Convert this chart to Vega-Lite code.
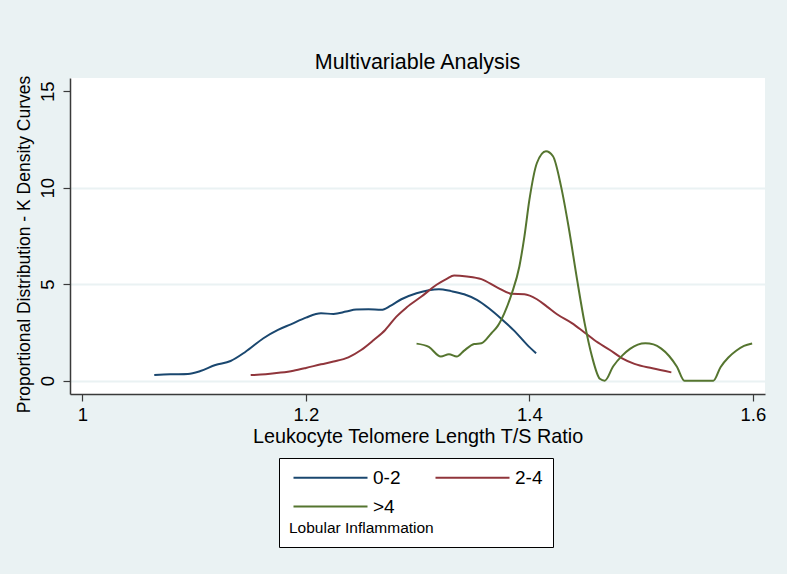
{
  "$schema": "https://vega.github.io/schema/vega-lite/v6.json",
  "width": 695,
  "height": 316,
  "autosize": {"type": "none"},
  "padding": {"left": 70, "top": 78, "right": 22, "bottom": 180},
  "background": "#eaf2f3",
  "title": {"text": "Multivariable Analysis", "fontSize": 21.5, "font": "Liberation Sans", "fontWeight": "normal", "color": "black", "offset": 2, "anchor": "middle"},
  "config": {
    "view": {"fill": "white", "stroke": null},
    "font": "Liberation Sans",
    "axis": {
      "labelFont": "Liberation Sans", "titleFont": "Liberation Sans",
      "labelColor": "black", "titleColor": "black",
      "labelFontSize": 18.5, "titleFontSize": 19.8, "titleFontWeight": "normal",
      "domainColor": "#3a3a3a", "domainWidth": 1.5,
      "tickColor": "#3a3a3a", "tickWidth": 1.2, "tickSize": 7
    }
  },
  "data": {"values": [
    {"group": "0-2", "tl": 1.0643, "density": 0.29},
    {"group": "0-2", "tl": 1.0787, "density": 0.33},
    {"group": "0-2", "tl": 1.0944, "density": 0.35},
    {"group": "0-2", "tl": 1.1056, "density": 0.50},
    {"group": "0-2", "tl": 1.119, "density": 0.81},
    {"group": "0-2", "tl": 1.1326, "density": 1.02},
    {"group": "0-2", "tl": 1.146, "density": 1.5},
    {"group": "0-2", "tl": 1.162, "density": 2.2},
    {"group": "0-2", "tl": 1.175, "density": 2.63},
    {"group": "0-2", "tl": 1.1865, "density": 2.92},
    {"group": "0-2", "tl": 1.2, "density": 3.27},
    {"group": "0-2", "tl": 1.2135, "density": 3.49},
    {"group": "0-2", "tl": 1.2247, "density": 3.46},
    {"group": "0-2", "tl": 1.236, "density": 3.58},
    {"group": "0-2", "tl": 1.245, "density": 3.69},
    {"group": "0-2", "tl": 1.256, "density": 3.70},
    {"group": "0-2", "tl": 1.2674, "density": 3.67},
    {"group": "0-2", "tl": 1.276, "density": 3.89},
    {"group": "0-2", "tl": 1.2854, "density": 4.22},
    {"group": "0-2", "tl": 1.299, "density": 4.53},
    {"group": "0-2", "tl": 1.31, "density": 4.69},
    {"group": "0-2", "tl": 1.319, "density": 4.74},
    {"group": "0-2", "tl": 1.330, "density": 4.64},
    {"group": "0-2", "tl": 1.3416, "density": 4.48},
    {"group": "0-2", "tl": 1.353, "density": 4.19},
    {"group": "0-2", "tl": 1.364, "density": 3.74},
    {"group": "0-2", "tl": 1.375, "density": 3.20},
    {"group": "0-2", "tl": 1.3865, "density": 2.58},
    {"group": "0-2", "tl": 1.3978, "density": 1.87},
    {"group": "0-2", "tl": 1.406, "density": 1.42},
    {"group": "2-4", "tl": 1.1506, "density": 0.29},
    {"group": "2-4", "tl": 1.164, "density": 0.33},
    {"group": "2-4", "tl": 1.1775, "density": 0.42},
    {"group": "2-4", "tl": 1.1888, "density": 0.52},
    {"group": "2-4", "tl": 1.2, "density": 0.66},
    {"group": "2-4", "tl": 1.2135, "density": 0.85},
    {"group": "2-4", "tl": 1.2247, "density": 0.99},
    {"group": "2-4", "tl": 1.238, "density": 1.21},
    {"group": "2-4", "tl": 1.2494, "density": 1.59},
    {"group": "2-4", "tl": 1.2607, "density": 2.11},
    {"group": "2-4", "tl": 1.271, "density": 2.63},
    {"group": "2-4", "tl": 1.281, "density": 3.32},
    {"group": "2-4", "tl": 1.29, "density": 3.79},
    {"group": "2-4", "tl": 1.3034, "density": 4.36},
    {"group": "2-4", "tl": 1.3169, "density": 4.97},
    {"group": "2-4", "tl": 1.326, "density": 5.28},
    {"group": "2-4", "tl": 1.3326, "density": 5.45},
    {"group": "2-4", "tl": 1.344, "density": 5.40},
    {"group": "2-4", "tl": 1.357, "density": 5.26},
    {"group": "2-4", "tl": 1.371, "density": 4.84},
    {"group": "2-4", "tl": 1.3843, "density": 4.50},
    {"group": "2-4", "tl": 1.3955, "density": 4.48},
    {"group": "2-4", "tl": 1.4067, "density": 4.22},
    {"group": "2-4", "tl": 1.4157, "density": 3.84},
    {"group": "2-4", "tl": 1.4247, "density": 3.44},
    {"group": "2-4", "tl": 1.438, "density": 2.98},
    {"group": "2-4", "tl": 1.447, "density": 2.6},
    {"group": "2-4", "tl": 1.458, "density": 2.11},
    {"group": "2-4", "tl": 1.472, "density": 1.59},
    {"group": "2-4", "tl": 1.483, "density": 1.16},
    {"group": "2-4", "tl": 1.494, "density": 0.87},
    {"group": "2-4", "tl": 1.51, "density": 0.64},
    {"group": "2-4", "tl": 1.527, "density": 0.43},
    {"group": ">4", "tl": 1.299, "density": 1.92},
    {"group": ">4", "tl": 1.310, "density": 1.75},
    {"group": ">4", "tl": 1.3207, "density": 1.25},
    {"group": ">4", "tl": 1.328, "density": 1.37},
    {"group": ">4", "tl": 1.335, "density": 1.25},
    {"group": ">4", "tl": 1.3416, "density": 1.56},
    {"group": ">4", "tl": 1.3506, "density": 1.90},
    {"group": ">4", "tl": 1.357, "density": 1.94},
    {"group": ">4", "tl": 1.366, "density": 2.46},
    {"group": ">4", "tl": 1.3717, "density": 2.84},
    {"group": ">4", "tl": 1.3775, "density": 3.49},
    {"group": ">4", "tl": 1.3843, "density": 4.53},
    {"group": ">4", "tl": 1.391, "density": 5.92},
    {"group": ">4", "tl": 1.3955, "density": 7.47},
    {"group": ">4", "tl": 1.40, "density": 9.38},
    {"group": ">4", "tl": 1.4067, "density": 11.28},
    {"group": ">4", "tl": 1.4148, "density": 11.89},
    {"group": ">4", "tl": 1.4211, "density": 11.63},
    {"group": ">4", "tl": 1.4283, "density": 10.07},
    {"group": ">4", "tl": 1.435, "density": 7.99},
    {"group": ">4", "tl": 1.4427, "density": 5.22},
    {"group": ">4", "tl": 1.4494, "density": 2.98},
    {"group": ">4", "tl": 1.456, "density": 1.25},
    {"group": ">4", "tl": 1.463, "density": 0.1},
    {"group": ">4", "tl": 1.4674, "density": 0},
    {"group": ">4", "tl": 1.475, "density": 0.75},
    {"group": ">4", "tl": 1.483, "density": 1.3},
    {"group": ">4", "tl": 1.49, "density": 1.65},
    {"group": ">4", "tl": 1.497, "density": 1.87},
    {"group": ">4", "tl": 1.5038, "density": 1.94},
    {"group": ">4", "tl": 1.511, "density": 1.88},
    {"group": ">4", "tl": 1.518, "density": 1.66},
    {"group": ">4", "tl": 1.525, "density": 1.28},
    {"group": ">4", "tl": 1.532, "density": 0.72},
    {"group": ">4", "tl": 1.5387, "density": 0},
    {"group": ">4", "tl": 1.5646, "density": 0},
    {"group": ">4", "tl": 1.571, "density": 0.7},
    {"group": ">4", "tl": 1.578, "density": 1.2},
    {"group": ">4", "tl": 1.585, "density": 1.55},
    {"group": ">4", "tl": 1.592, "density": 1.8},
    {"group": ">4", "tl": 1.5993, "density": 1.93}
  ]},
  "mark": {"type": "line", "strokeWidth": 2, "interpolate": "monotone"},
  "encoding": {
    "x": {
      "field": "tl", "type": "quantitative",
      "scale": {"domain": [0.9889, 1.6108], "nice": false, "zero": false},
      "axis": {"title": "Leukocyte Telomere Length T/S Ratio", "values": [1, 1.2, 1.4, 1.6], "format": "~g", "grid": false, "labelPadding": 4, "titlePadding": 3, "labelFlush": false}
    },
    "y": {
      "field": "density", "type": "quantitative",
      "scale": {"domain": [-0.69, 15.685], "nice": false, "zero": false},
      "axis": {"title": "Proportional Distribution - K Density Curves", "titleFontSize": 17.5, "titleX": -37, "titleY": 166, "titleAlign": "center", "titleAngle": -90, "titleBaseline": "bottom", "values": [0, 5, 10, 15], "labelAngle": -90, "labelAlign": "center", "labelBaseline": "bottom", "labelPadding": 6, "grid": true, "gridColor": "#eaf2f3", "gridWidth": 2, "gridOpacity": {"condition": {"test": "datum.value == 15", "value": 0}, "value": 1}, "labelFlush": false}
    },
    "color": {
      "field": "group", "type": "nominal",
      "scale": {"domain": ["0-2", "2-4", ">4"], "range": ["#1a476f", "#90353b", "#55752f"]},
      "legend": {
        "orient": "none", "legendX": 209, "legendY": 380,
        "columns": 2, "direction": "horizontal",
        "symbolType": "M-1,0H13.8", "symbolSize": 100, "symbolStrokeWidth": 2,
        "labelOffset": 65, "labelFontSize": 19, "labelFont": "Liberation Sans", "labelColor": "black",
        "columnPadding": 30, "rowPadding": 9,
        "title": "Lobular Inflammation", "titleOrient": "bottom", "titleAnchor": "start",
        "titleFontSize": 15.5, "titleFontWeight": "normal", "titleColor": "black", "titleFont": "Liberation Sans", "titlePadding": 4,
        "strokeColor": "black", "fillColor": "white", "padding": 10, "cornerRadius": 0
      }
    }
  }
}
